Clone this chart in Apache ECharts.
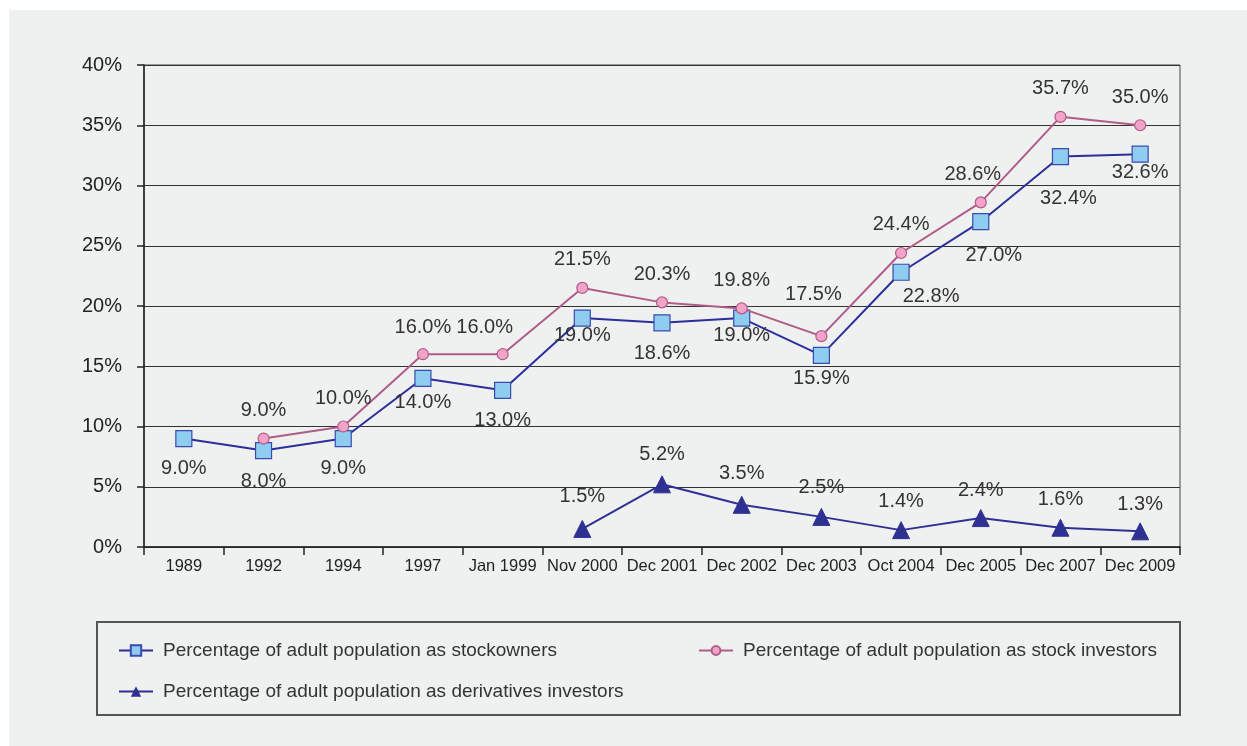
<!DOCTYPE html>
<html>
<head>
<meta charset="utf-8">
<script src="https://cdn.jsdelivr.net/npm/echarts@6/dist/echarts.min.js"></script>
<style>
html,body{margin:0;padding:0;background:#fff;}
#wrap{position:relative;width:1247px;height:746px;overflow:hidden;}
#panel{position:absolute;left:9px;top:10px;right:0;bottom:0;background:#eff0f0;}
#chart{position:absolute;left:0;top:0;width:1247px;height:746px;}
</style>
</head>
<body>
<div id="wrap"><div id="panel"></div><div id="chart"></div></div>
<script>
var categories = ['1989','1992','1994','1997','Jan 1999','Nov 2000','Dec 2001','Dec 2002','Dec 2003','Oct 2004','Dec 2005','Dec 2007','Dec 2009'];
var stockowners = [9.0, 8.0, 9.0, 14.0, 13.0, 19.0, 18.6, 19.0, 15.9, 22.8, 27.0, 32.4, 32.6];
var stockInvestors = [null, 9.0, 10.0, 16.0, 16.0, 21.5, 20.3, 19.8, 17.5, 24.4, 28.6, 35.7, 35.0];
var derivInvestors = [null, null, null, null, null, 1.5, 5.2, 3.5, 2.5, 1.4, 2.4, 1.6, 1.3];
var yTicks = [0,5,10,15,20,25,30,35,40];

// label placement tweaks (style only)
var ownerDist = [11,12,11,6,12,-1,12,-1,4,6,15,23,0];
var ownerDx   = [0,0,0,0,0,0,0,0,0,30,13,8,0];
var invDist   = [12,12,12,11,11,12,12,12,26,12,12,12,12];
var invDx     = [0,0,0,0,-18,0,0,0,-8,0,-8,0,0];
var derDist   = [11,11,11,11,11,13,11,12,10,10,9,9,8];

function build(vals, pos, dist, dx){
  return vals.map(function(v,i){
    if(v===null) return null;
    return {value:v, label:{position:pos, distance:dist[i], offset:[dx?dx[i]:0,0]}};
  });
}
var fmt = function(p){return p.value.toFixed(1)+'%';};
var font = "'Liberation Sans', Arial, Helvetica, sans-serif";
var legendText = {fontSize:19, color:'#333', fontFamily:font, padding:[0,0,0,5]};
var chart = echarts.init(document.getElementById('chart'));
chart.setOption({
  backgroundColor:'transparent',
  textStyle:{fontFamily:font},
  animation:false,
  grid:{left:144, right:67, top:65, bottom:199, show:true, borderColor:'#444', borderWidth:1, backgroundColor:'transparent'},
  xAxis:{
    type:'category', data:categories, boundaryGap:true,
    axisLine:{lineStyle:{color:'#222', width:1.5}},
    axisTick:{show:true, length:8, inside:false, lineStyle:{color:'#222', width:1.5}},
    axisLabel:{color:'#222', fontSize:16.5, margin:11, fontFamily:font, interval:0}
  },
  yAxis:{
    type:'value', min:yTicks[0], max:yTicks[yTicks.length-1], interval:5,
    axisLine:{show:true, lineStyle:{color:'#222', width:1.5}},
    axisTick:{show:true, length:7, lineStyle:{color:'#222', width:1.5}},
    axisLabel:{color:'#222', fontSize:20, margin:22, formatter:'{value}%', fontFamily:font},
    splitLine:{show:true, lineStyle:{color:'#333', width:1}}
  },
  legend:[
    {data:['Percentage of adult population as stockowners'], left:113, top:636, itemWidth:34, itemHeight:13, textStyle:legendText},
    {data:['Percentage of adult population as stock investors'], left:693, top:636, itemWidth:34, itemHeight:11, textStyle:legendText},
    {data:['Percentage of adult population as derivatives investors'], left:113, top:677, itemWidth:34, itemHeight:13, textStyle:legendText}
  ],
  graphic:[
    {type:'rect', shape:{x:97, y:622, width:1083, height:93}, style:{fill:'none', stroke:'#555', lineWidth:2}, silent:true}
  ],
  series:[
    {
      name:'Percentage of adult population as stockowners', type:'line',
      data:build(stockowners,'bottom',ownerDist,ownerDx),
      symbol:'rect', symbolSize:16, z:3,
      lineStyle:{color:'#2b2f9a', width:2},
      itemStyle:{color:'#8ecdf0', borderColor:'#3a4aae', borderWidth:1.2},
      label:{show:true, formatter:fmt, fontSize:20, color:'#333', fontFamily:font}
    },
    {
      name:'Percentage of adult population as stock investors', type:'line',
      data:build(stockInvestors,'top',invDist,invDx),
      symbol:'circle', symbolSize:11, z:4,
      lineStyle:{color:'#b05c88', width:2},
      itemStyle:{color:'#f2a3c8', borderColor:'#b05c88', borderWidth:1.2},
      label:{show:true, formatter:fmt, fontSize:20, color:'#333', fontFamily:font}
    },
    {
      name:'Percentage of adult population as derivatives investors', type:'line',
      data:build(derivInvestors,'top',derDist,null),
      symbol:'triangle', symbolSize:17, z:3,
      lineStyle:{color:'#2e3192', width:2},
      itemStyle:{color:'#2e3192', borderColor:'#2e3192'},
      label:{show:true, formatter:fmt, fontSize:20, color:'#333', fontFamily:font}
    }
  ]
});
</script>
</body>
</html>
